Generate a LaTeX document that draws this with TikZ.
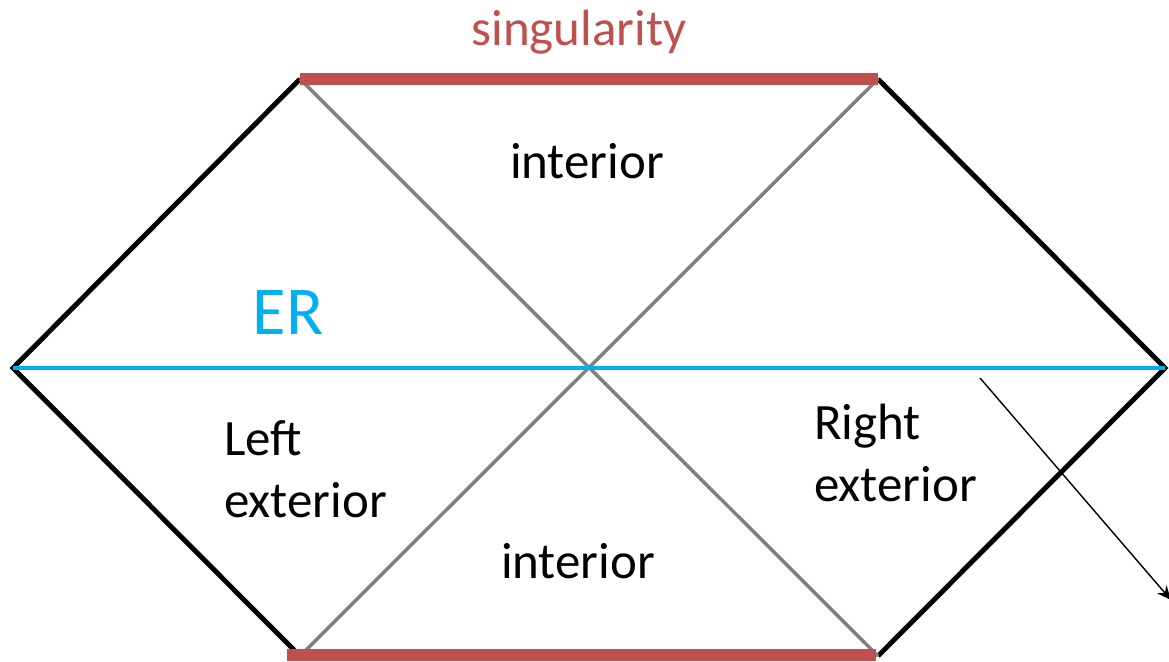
\documentclass[tikz,border=0pt]{standalone}
\usepackage{fontspec}
\setmainfont{Carlito}
\usetikzlibrary{arrows.meta}
\definecolor{singred}{RGB}{192,80,77}
\definecolor{erblue}{RGB}{0,176,240}
\tikzset{
  horizon/.style={line width=2.8pt, black, line join=miter},
  diag/.style={line width=2pt, gray},
  sing/.style={line width=6.8pt, singred},
  region/.style={font=\fontsize{29}{35}\selectfont, align=left}
}
\begin{document}
\begin{tikzpicture}[x=0.02cm, y=-0.02cm]
    \useasboundingbox (0,0) rectangle (1169,662);
    % corners of the diagram
    \coordinate (L) at (13,368);
    \coordinate (R) at (1165,368);
    \coordinate (TL) at (300,79);
    \coordinate (TR) at (878,79);
    \coordinate (BL) at (300,656);
    \coordinate (BR) at (878,656);
    \coordinate (BLs) at (287,655);
    \coordinate (BRs) at (876,655);
    \coordinate (C) at (591,368);

    % outer boundary
    \draw[horizon] (TL) -- (L) -- (BL);
    \draw[horizon] (TR) -- (R) -- (BR);

    % horizons
    \draw[diag] (TL) -- (BR);
    \draw[diag] (TR) -- (BL);

    % Einstein-Rosen bridge
    \draw[line width=2pt, erblue] (L) -- (R);

    % singularities
    \draw[sing] (TL) -- (TR);
    \draw[sing] (BLs) -- (BRs);
    \node[region, text=singred] (singtop) at (579,32) {singularity};

    % labels
    \node[region] (inttop) at (587,161) {interior};
    \node[region] (intbot) at (578,561) {interior};
    \node[font=\fontsize{39}{45}\selectfont, text=erblue] (er) at (288,313) {ER};
    \node[region, anchor=west] (lext) at (218,469) {Left\\exterior};
    \node[region, anchor=west] (rext) at (808,453) {Right\\exterior};

    % thin arrow
    \coordinate (arrS) at (980,378);
    \coordinate (arrE) at (1171,600);
    \draw[-{Stealth[length=8pt,width=7pt]}, line width=0.8pt] (arrS) -- (arrE);
\end{tikzpicture}
\end{document}
